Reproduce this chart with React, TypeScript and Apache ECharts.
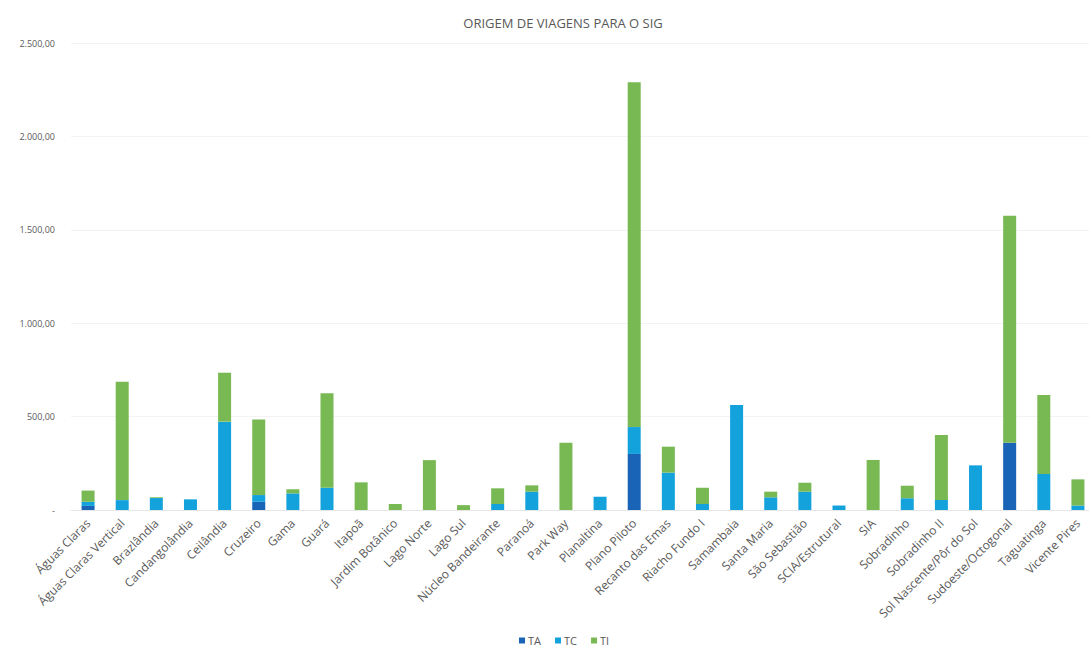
import React, { useEffect, useRef } from "react";
import * as echarts from "echarts";

const categories = [
  "Águas Claras", "Águas Claras Vertical", "Brazlândia", "Candangolândia", "Ceilândia",
  "Cruzeiro", "Gama", "Guará", "Itapoã", "Jardim Botânico", "Lago Norte", "Lago Sul",
  "Núcleo Bandeirante", "Paranoá", "Park Way", "Planaltina", "Plano Piloto",
  "Recanto das Emas", "Riacho Fundo I", "Samambaia", "Santa Maria", "São Sebastião",
  "SCIA/Estrutural", "SIA", "Sobradinho", "Sobradinho II", "Sol Nascente/Pôr do Sol",
  "Sudoeste/Octogonal", "Taguatinga", "Vicente Pires",
];

const taValues = [22, 0, 0, 0, 0, 44, 0, 0, 0, 0, 0, 0, 0, 0, 0, 0, 300, 0, 0, 0, 0, 0, 0, 0, 0, 0, 0, 360, 0, 0];
const tcValues = [22, 53, 64, 57, 473, 36, 89, 119, 0, 0, 0, 0, 32, 98, 0, 71, 144, 200, 32, 562, 68, 98, 24, 0, 63, 54, 239, 0, 193, 24];
const tiValues = [60, 634, 4, 0, 262, 405, 22, 506, 148, 32, 267, 26, 84, 34, 360, 0, 1846, 139, 87, 0, 30, 48, 0, 268, 67, 347, 0, 1215, 423, 140];

const yTicks = [0, 500, 1000, 1500, 2000, 2500];

const fmt = (v: number) => {
  if (v === 0) return "-";
  const s = Math.round(v).toString().replace(/\B(?=(\d{3})+(?!\d))/g, ".");
  return s + ",00";
};

export default function App() {
  const ref = useRef<HTMLDivElement>(null);
  useEffect(() => {
    if (!ref.current) return;
    const chart = echarts.init(ref.current, undefined, { renderer: "svg" });
    const font = "'Open Sans', 'Liberation Sans', sans-serif";
    chart.setOption({
      animation: false,
      backgroundColor: "#ffffff",
      title: {
        text: "ORIGEM DE VIAGENS PARA O SIG",
        left: 558,
        top: 11,
        textAlign: "center",
        textStyle: { fontFamily: font, fontSize: 13, fontWeight: "normal", color: "#595959" },
      },
      legend: {
        top: 630,
        left: 514,
        itemWidth: 6,
        itemHeight: 6,
        itemGap: 14,
        icon: "rect",
        textStyle: { fontFamily: font, fontSize: 11, color: "#595959", padding: [0, 0, 0, -2] },
        data: ["TA", "TC", "TI"],
      },
      grid: { left: 71, right: 0, top: 43, bottom: 146, containLabel: false },
      xAxis: {
        type: "category",
        data: categories,
        axisTick: { show: false },
        axisLine: { show: true, lineStyle: { color: "#e6e6e6" } },
        axisLabel: {
          rotate: 45,
          interval: 0,
          margin: 11,
          fontFamily: font,
          fontSize: 12,
          color: "#595959",
        },
      },
      yAxis: {
        type: "value",
        min: yTicks[0],
        max: yTicks[yTicks.length - 1],
        interval: 500,
        axisLine: { show: false },
        axisTick: { show: false },
        splitLine: { show: true, lineStyle: { color: "#f3f3f3" } },
        axisLabel: {
          margin: 16,
          fontFamily: font,
          fontSize: 9,
          color: "#595959",
          formatter: (v: number) => fmt(v),
        },
      },
      series: [
        { name: "TA", type: "bar", stack: "t", data: taValues, barWidth: 13, itemStyle: { color: "#1a64b8" } },
        { name: "TC", type: "bar", stack: "t", data: tcValues, barWidth: 13, itemStyle: { color: "#14a2dc" } },
        { name: "TI", type: "bar", stack: "t", data: tiValues, barWidth: 13, itemStyle: { color: "#78b953" } },
      ],
    });
    return () => chart.dispose();
  }, []);
  return (
    <div style={{ width: 1089, height: 656, position: "absolute", left: 0, top: 0, overflow: "hidden", background: "#fff" }}>
      <div ref={ref} style={{ width: 1095, height: 656, position: "absolute", left: 0, top: 0 }} />
    </div>
  );
}
